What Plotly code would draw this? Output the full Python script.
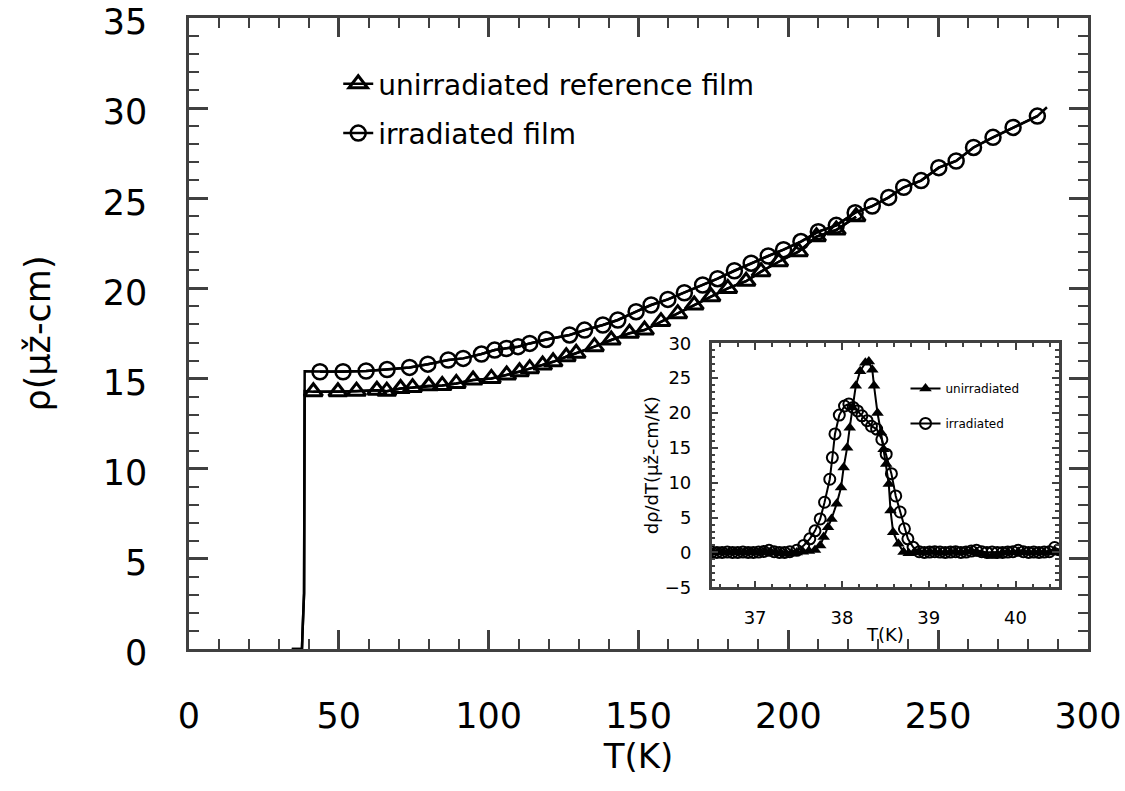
import plotly.graph_objects as go

# ---------------- main panel data ----------------
T_drop = [34.3, 37.7, 37.9, 38.1, 38.4, 38.6]
rho_drop_unirr = [0.0, 0.0, 1.0, 2.4, 3.1, 14.3]
rho_drop_irr = [0.0, 0.0, 1.0, 2.4, 3.1, 15.4]

T_unirr = [41.5, 49.7, 55.9, 62.7, 66.0, 70.6, 74.6, 80.0, 84.5, 89.2, 94.8, 100.9,
           106.0, 110.3, 113.7, 118.0, 121.5, 125.9, 129.2, 135.3, 140.9, 147.0, 152.0,
           157.5, 163.1, 168.6, 174.2, 179.8, 185.9, 190.9, 196.8, 203.4, 209.4, 216.0, 222.6]
rho_unirr = [14.27, 14.27, 14.30, 14.35, 14.30, 14.45, 14.50, 14.60, 14.62, 14.73, 14.92, 15.01,
             15.20, 15.38, 15.55, 15.75, 15.93, 16.21, 16.40, 16.77, 17.14, 17.51, 17.69,
             18.16, 18.60, 19.08, 19.54, 20.00, 20.40, 20.93, 21.48, 22.04, 22.87, 23.24, 23.98]

T_irr = [43.7, 51.4, 59.1, 66.1, 73.6, 79.7, 86.5, 91.5, 97.6, 102.0, 105.9, 109.8, 113.7,
         119.2, 127.0, 132.0, 138.1, 143.1, 149.2, 154.2, 159.8, 165.3, 171.4, 176.4, 182.0,
         187.6, 193.3, 198.4, 204.2, 210.0, 216.0, 222.3, 228.0, 233.5, 238.5, 244.3, 250.2,
         256.0, 261.8, 268.3, 275.0, 283.1]
rho_irr = [15.38, 15.38, 15.42, 15.50, 15.62, 15.80, 16.03, 16.12, 16.36, 16.58, 16.67, 16.77, 16.95,
           17.17, 17.42, 17.69, 17.97, 18.25, 18.71, 19.08, 19.39, 19.76, 20.19, 20.54, 20.98,
           21.40, 21.80, 22.15, 22.60, 23.15, 23.50, 24.20, 24.57, 25.05, 25.61, 25.98, 26.70,
           27.07, 27.82, 28.38, 28.93, 29.56]
T_irr_end = [286.3]
rho_irr_end = [30.05]

# ---------------- inset data (d rho / dT) ----------------
Ti_unirr = [36.52, 36.58, 36.64, 36.70, 36.76, 36.82, 36.88, 36.94, 37.00, 37.06, 37.12, 37.18,
            37.24, 37.30, 37.36, 37.42, 37.48, 37.55, 37.62, 37.69, 37.75, 37.79, 37.84, 37.88,
            37.94, 37.99, 38.02, 38.06, 38.09, 38.12, 38.16, 38.21, 38.27, 38.31, 38.35, 38.37,
            38.41, 38.45, 38.48, 38.51, 38.54, 38.56, 38.59, 38.65, 38.71, 38.77, 38.83, 38.89,
            38.95, 39.01, 39.07, 39.13, 39.19, 39.25, 39.31, 39.37, 39.43, 39.49, 39.55, 39.61,
            39.67, 39.73, 39.79, 39.85, 39.91, 39.97, 40.03, 40.09, 40.15, 40.21, 40.27, 40.33,
            40.39, 40.45, 40.51]
dr_unirr = [0.0, 0.05, 0.0, 0.0, 0.05, 0.0, 0.0, 0.05, 0.0, 0.0, 0.05, 0.1,
            0.0, -0.1, -0.2, -0.1, 0.0, 0.1, 0.2, 0.35, 1.0, 2.2, 3.6, 4.8,
            7.0, 9.3, 12.2, 15.0, 17.9, 20.8, 23.9, 26.0, 27.2, 27.4, 26.2, 23.9,
            20.0, 17.2, 14.8, 12.7, 9.8, 6.0, 2.9, 1.24, 0.05, -0.1, 0.0, 0.05,
            0.0, 0.1, 0.05, 0.0, 0.0, 0.05, 0.1, 0.0, 0.1, 0.2, 0.05, -0.2,
            -0.4, -0.5, -0.3, 0.0, 0.05, 0.0, 0.1, 0.05, 0.0, 0.0, 0.05, 0.0,
            0.0, 0.1, 0.0]

Ti_irr = [36.50, 36.56, 36.62, 36.68, 36.74, 36.80, 36.86, 36.92, 36.98, 37.04, 37.10, 37.16,
          37.22, 37.28, 37.34, 37.40, 37.48, 37.56, 37.63, 37.69, 37.75, 37.80, 37.86, 37.89,
          37.92, 37.97, 38.03, 38.08, 38.13, 38.18, 38.23, 38.29, 38.34, 38.40, 38.46, 38.51,
          38.57, 38.62, 38.67, 38.72, 38.76, 38.82, 38.89, 38.95, 39.01, 39.07, 39.13, 39.19,
          39.25, 39.31, 39.37, 39.43, 39.49, 39.55, 39.61, 39.67, 39.73, 39.79, 39.85, 39.91,
          39.97, 40.03, 40.09, 40.15, 40.21, 40.27, 40.33, 40.39, 40.45, 40.50]
dr_irr = [0.05, 0.0, 0.0, 0.05, 0.0, 0.0, 0.05, 0.0, 0.0, 0.05, 0.15, 0.3,
          0.1, 0.0, 0.0, 0.1, 0.3, 1.0, 1.95, 3.1, 4.8, 7.2, 10.5, 13.6,
          17.0, 19.7, 21.0, 21.3, 20.8, 20.3, 19.6, 18.9, 18.1, 17.7, 16.2, 14.1,
          11.3, 8.1, 5.8, 3.4, 1.95, 0.76, 0.1, 0.0, 0.05, 0.1, 0.05, 0.0,
          0.05, 0.1, 0.0, 0.05, 0.2, 0.3, 0.1, 0.0, 0.05, 0.0, 0.0, 0.05,
          0.1, 0.3, 0.1, 0.0, 0.05, 0.0, 0.05, 0.1, 0.7, 0.4]

FONT = "DejaVu Sans"
AX = "#404040"
BLACK = "black"

fig = go.Figure()

# main panel lines (transition + data)
fig.add_trace(go.Scatter(x=T_drop + T_unirr, y=rho_drop_unirr + rho_unirr, mode="lines",
                         line=dict(color=BLACK, width=2.5), showlegend=False,
                         hoverinfo="skip", xaxis="x", yaxis="y"))
fig.add_trace(go.Scatter(x=T_drop + T_irr + T_irr_end, y=rho_drop_irr + rho_irr + rho_irr_end,
                         mode="lines", line=dict(color=BLACK, width=2.5), showlegend=False,
                         hoverinfo="skip", xaxis="x", yaxis="y"))
fig.add_trace(go.Scatter(x=T_unirr, y=rho_unirr, mode="lines+markers",
                         name="unirradiated reference film", legendgroup="a", legend="legend",
                         line=dict(color=BLACK, width=2.5),
                         marker=dict(symbol="triangle-up-open", size=16, color=BLACK,
                                     line=dict(width=3, color=BLACK)),
                         xaxis="x", yaxis="y"))
fig.add_trace(go.Scatter(x=T_irr, y=rho_irr, mode="lines+markers",
                         name="irradiated film", legendgroup="b", legend="legend",
                         line=dict(color=BLACK, width=2.5),
                         marker=dict(symbol="circle-open", size=15, color=BLACK,
                                     line=dict(width=2.5, color=BLACK)),
                         xaxis="x", yaxis="y"))

# inset
fig.add_trace(go.Scatter(x=Ti_unirr, y=dr_unirr, mode="lines+markers", name="unirradiated",
                         legendgroup="c", legend="legend2",
                         line=dict(color=BLACK, width=2),
                         marker=dict(symbol="triangle-up", size=11, color=BLACK),
                         xaxis="x2", yaxis="y2"))
fig.add_trace(go.Scatter(x=Ti_irr, y=dr_irr, mode="lines+markers", name="irradiated",
                         legendgroup="d", legend="legend2",
                         line=dict(color=BLACK, width=2),
                         marker=dict(symbol="circle-open", size=11, color=BLACK,
                                     line=dict(width=2, color=BLACK)),
                         xaxis="x2", yaxis="y2"))

main_axis = dict(showline=True, linewidth=2.5, linecolor=AX, mirror="ticks",
                 ticks="inside", tickwidth=2.5, tickcolor=AX, ticklen=19,
                 showgrid=False, zeroline=False, ticklabeloverflow="allow",
                 tickfont=dict(family=FONT, size=35, color=BLACK))

inset_axis = dict(showline=True, linewidth=2.5, linecolor=AX, mirror="ticks",
                  ticks="inside", tickwidth=2, tickcolor=AX, ticklen=7,
                  showgrid=False, zeroline=False,
                  tickfont=dict(family=FONT, size=18, color=BLACK))

fig.update_layout(
    width=1125, height=791,
    margin=dict(l=189, r=37, t=18, b=142, autoexpand=False),
    paper_bgcolor="white", plot_bgcolor="white",
    font=dict(family=FONT, color=BLACK),
    xaxis=dict(main_axis, domain=[0, 1], range=[0, 300], dtick=50, tick0=0,
               ticklabelstandoff=34,
               minor=dict(dtick=10, ticklen=10, tickwidth=2, tickcolor=AX, ticks="inside"),
               title=dict(text="T(K)", font=dict(family=FONT, size=34), standoff=2)),
    yaxis=dict(main_axis, domain=[0, 1], range=[0, 35.0001], dtick=5, tick0=0,
               ticklabelstandoff=32, ticklabelshift=4,
               minor=dict(dtick=1, ticklen=10, tickwidth=2, tickcolor=AX, ticks="inside"),
               title=dict(text="ρ(μž-cm)", font=dict(family=FONT, size=35), standoff=42)),
    xaxis2=dict(inset_axis, domain=[0.5814, 0.9677], range=[36.5, 40.5], dtick=1, tick0=37,
                anchor="y2", ticklabelstandoff=12,
                minor=dict(dtick=0.2, ticklen=4, tickwidth=1.5, tickcolor=AX, ticks="inside"),
                title=dict(text="T(K)", font=dict(family=FONT, size=18), standoff=2)),
    yaxis2=dict(inset_axis, domain=[0.0978, 0.4845], range=[-5, 30], dtick=5, tick0=0,
                anchor="x2", ticklabelstandoff=14,
                minor=dict(dtick=1, ticklen=4, tickwidth=1.5, tickcolor=AX, ticks="inside"),
                title=dict(text="dρ/dT(μž-cm/K)", font=dict(family=FONT, size=18), standoff=2)),
    legend=dict(x=0.166, y=0.935, xanchor="left", yanchor="top", bgcolor="rgba(0,0,0,0)",
                font=dict(family=FONT, size=28, color=BLACK), tracegroupgap=10,
                itemsizing="trace"),
    legend2=dict(x=0.797, y=0.436, xanchor="left", yanchor="top", bgcolor="rgba(0,0,0,0)",
                 font=dict(family=FONT, size=12, color=BLACK), tracegroupgap=16,
                 itemsizing="trace"),
)

fig.write_html("out.html", config={"displayModeBar": False},
               post_script="document.body.style.margin='0';")
